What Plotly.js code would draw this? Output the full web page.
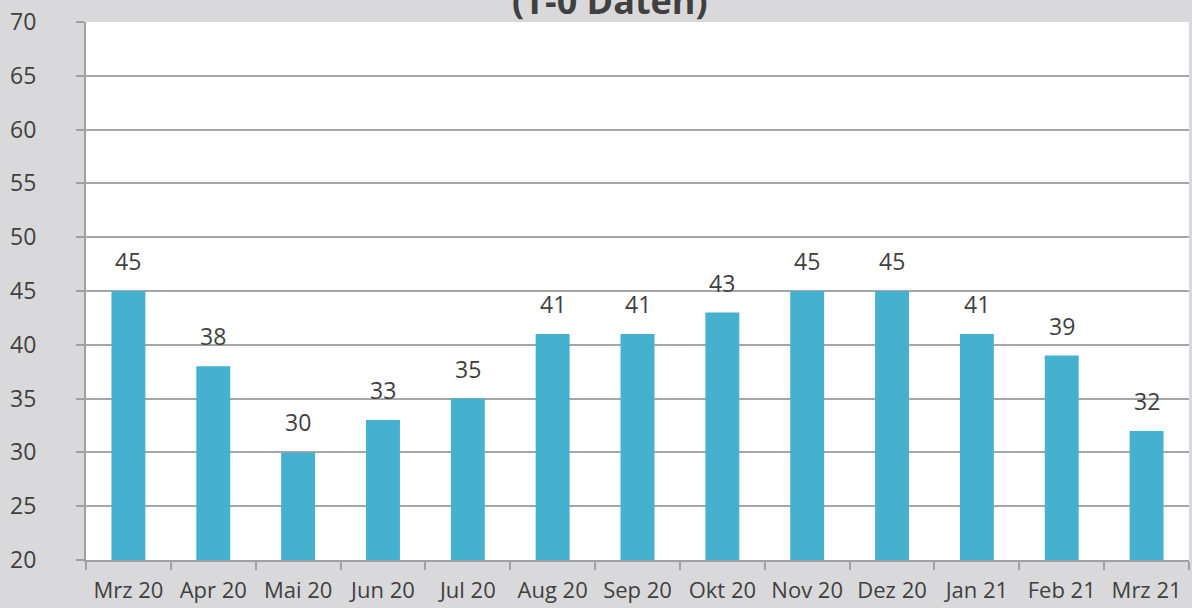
<!DOCTYPE html>
<html><head><meta charset="utf-8">
<script src="https://cdn.plot.ly/plotly-3.0.1.min.js"></script>
<style>html,body{margin:0;padding:0;background:#d9d9db;}#c{width:1192px;height:608px;}</style>
</head><body><div id="c"></div>
<script>
const categories = ["Mrz 20","Apr 20","Mai 20","Jun 20","Jul 20","Aug 20","Sep 20","Okt 20","Nov 20","Dez 20","Jan 21","Feb 21","Mrz 21"];
const values = [45,38,30,33,35,41,41,43,45,45,41,39,32];
const titleText = "(T-0 Daten)";
const yTicks = [20,25,30,35,40,45,50,55,60,65,70];

const fontFam = "Open Sans, sans-serif";
const trace = {
  type: "bar", x: categories, y: values,
  marker: {color: "#45b1ce"},
  hoverinfo: "skip"
};
const valueLabels = categories.map((c, i) => ({
  text: String(values[i]), x: c, y: values[i], xref: "x", yref: "y",
  xanchor: "center", yanchor: "bottom", yshift: 12, showarrow: false,
  font: {family: fontFam, size: 23, color: "#404040"}
}));
const layout = {
  width: 1192, height: 608,
  margin: {l: 86, r: 3, t: 22, b: 48, pad: 0},
  paper_bgcolor: "#d9d9db", plot_bgcolor: "#ffffff",
  showlegend: false, bargap: 0.6,
  xaxis: {
    type: "category", tickson: "boundaries", ticks: "outside", ticklen: 8, tickwidth: 2, tickcolor: "#a0a0a0",
    showline: true, linecolor: "#a0a0a0", linewidth: 2, showgrid: false, zeroline: false,
    tickfont: {family: fontFam, size: 22, color: "#404040"}, ticklabelstandoff: 10, fixedrange: true
  },
  yaxis: {
    range: [20, 70], tickvals: yTicks, ticktext: yTicks.map(String),
    ticks: "outside", ticklen: 8, tickwidth: 2, tickcolor: "#a0a0a0",
    showline: true, linecolor: "#a0a0a0", linewidth: 2,
    showgrid: true, gridcolor: "#a6a6a6", gridwidth: 2, zeroline: false,
    tickfont: {family: fontFam, size: 23, color: "#404040"}, ticklabelstandoff: 35, fixedrange: true
  },
  annotations: [{
    text: "<b>" + titleText + "</b>", xref: "paper", yref: "paper", x: 0.475, y: 1, yshift: -5,
    xanchor: "center", yanchor: "bottom", showarrow: false,
    font: {family: fontFam, size: 36, color: "#404040"}
  }].concat(valueLabels)
};
Plotly.newPlot("c", [trace], layout, {displayModeBar: false, staticPlot: true});
</script></body></html>
